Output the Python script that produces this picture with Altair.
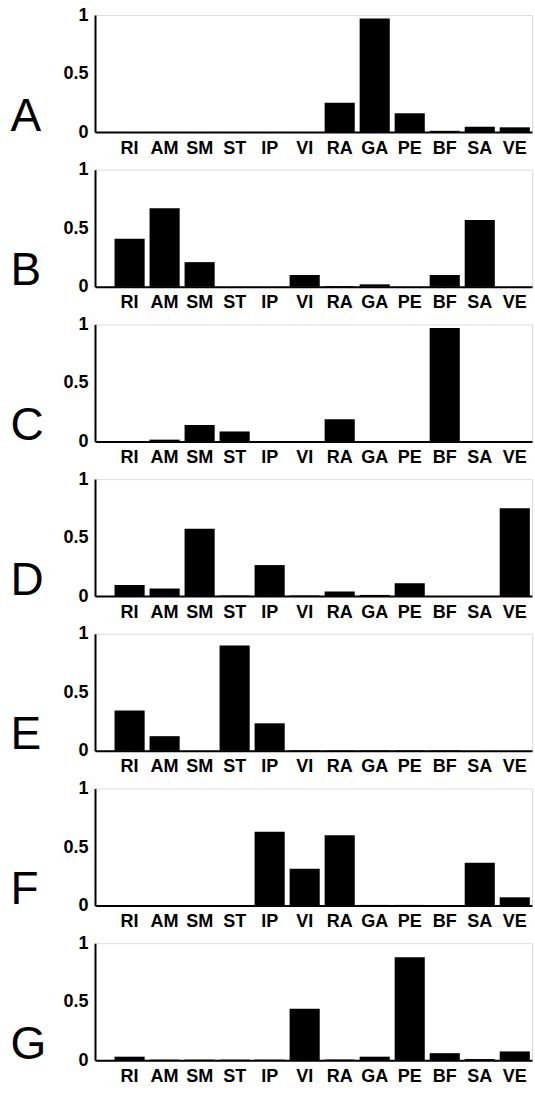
import altair as alt
import pandas as pd

categories = ["RI", "AM", "SM", "ST", "IP", "VI", "RA", "GA", "PE", "BF", "SA", "VE"]

panel_A = [0.0, 0.0, 0.0, 0.0, 0.0, 0.0, 0.25, 0.97, 0.16, 0.01, 0.045, 0.04]
panel_B = [0.41, 0.67, 0.21, 0.0, 0.0, 0.10, 0.005, 0.02, 0.0, 0.10, 0.57, 0.0]
panel_C = [0.0, 0.015, 0.14, 0.085, 0.0, 0.0, 0.19, 0.0, 0.0, 0.97, 0.0, 0.0]
panel_D = [0.095, 0.065, 0.575, 0.005, 0.265, 0.005, 0.04, 0.01, 0.11, 0.0, 0.0, 0.75]
panel_E = [0.345, 0.125, 0.0, 0.90, 0.235, 0.005, 0.005, 0.005, 0.005, 0.005, 0.0, 0.0]
panel_F = [0.0, 0.0, 0.0, 0.0, 0.63, 0.315, 0.60, 0.005, 0.005, 0.0, 0.365, 0.07]
panel_G = [0.03, 0.005, 0.005, 0.005, 0.005, 0.44, 0.005, 0.03, 0.88, 0.06, 0.01, 0.075]

panels = {"A": panel_A, "B": panel_B, "C": panel_C, "D": panel_D,
          "E": panel_E, "F": panel_F, "G": panel_G}

FONT = "Liberation Sans"


def make_panel(letter, values):
    df = pd.DataFrame({"cat": categories, "value": values})
    return alt.Chart(df).mark_bar(color="black").encode(
        x=alt.X("cat:N", sort=categories,
                scale=alt.Scale(paddingInner=0.14, paddingOuter=0.31, align=0.9),
                axis=alt.Axis(title=None, labelAngle=0, ticks=False, labelPadding=7,
                              labelFont=FONT, labelFontSize=18, labelFontWeight="bold",
                              labelColor="black", domainColor="black", domainWidth=2)),
        y=alt.Y("value:Q", scale=alt.Scale(domain=[0, 1], nice=False),
                axis=alt.Axis(values=[0, 0.5, 1], format="~g", grid=False,
                              tickSize=0, labelPadding=7,
                              labelFont=FONT, labelFontSize=18, labelFontWeight="bold",
                              labelColor="black", domainColor="black", domainWidth=2,
                              title=letter, titleAngle=0, titleFont=FONT,
                              titleFontSize=46, titleFontWeight="normal",
                              titleColor="black", titleAlign="left",
                              titleBaseline="alphabetic", titleX=-85, titleY=115)),
    ).properties(width=437, height=117)


chart = alt.vconcat(*[make_panel(k, v) for k, v in panels.items()], spacing=1.7).properties(
    padding={"left": 9, "top": 5, "right": 0, "bottom": 0}
).configure_view(stroke=None).configure(background="white")

chart.save("out.html", embed_options={"renderer": "svg", "actions": False})
